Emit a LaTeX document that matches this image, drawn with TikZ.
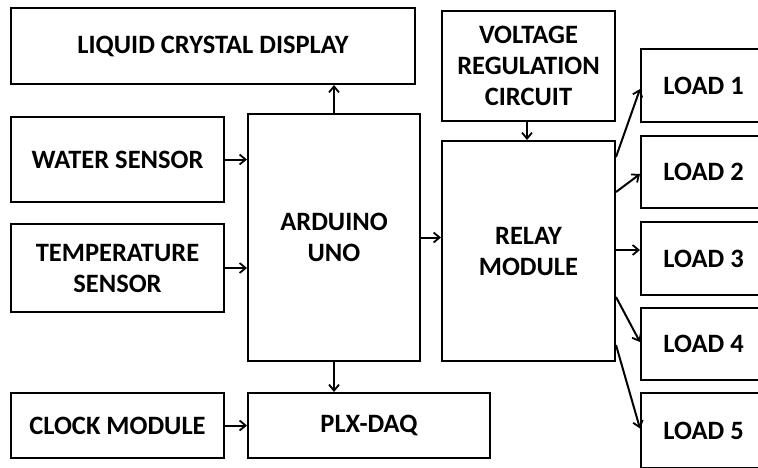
\documentclass[tikz,border=0pt]{standalone}
\usepackage{fontspec}
\setmainfont{Carlito}
\usetikzlibrary{arrows.meta}
\begin{document}
\begin{tikzpicture}[x=1pt,y=-1pt,
  blk/.style={draw=black, line width=2pt, fill=white, align=center, inner sep=0pt,
    font=\fontsize{26.5}{31}\selectfont\bfseries},
  arr/.style={line width=2pt, -{Straight Barb[length=6pt,width=10pt,line width=1.8pt]}}]
\useasboundingbox (0,0) rectangle (758,467);
\clip (0,0) rectangle (758,467);
\fill[white] (0,0) rectangle (758,467);
\node[blk, minimum width=404pt, minimum height=76pt] (lcd) at (213,46) {LIQUID CRYSTAL DISPLAY};
\node[blk, minimum width=213pt, minimum height=85pt] (water) at (117.5,159.5) {WATER SENSOR};
\node[blk, minimum width=213pt, minimum height=88pt] (temp) at (117.5,268) {TEMPERATURE\\SENSOR};
\node[blk, minimum width=172pt, minimum height=247pt] (ard) at (334,237.5) {ARDUINO\\UNO};
\node[blk, minimum width=213pt, minimum height=65pt] (clock) at (117.5,425.5) {CLOCK MODULE};
\node[blk, minimum width=242pt, minimum height=65pt] (plx) at (369,425.5) {PLX-DAQ};
\node[blk, minimum width=173pt, minimum height=110pt] (volt) at (528.5,66) {VOLTAGE\\REGULATION\\CIRCUIT};
\node[blk, minimum width=173pt, minimum height=220pt] (relay) at (528.5,251) {RELAY\\MODULE};
\node[blk, minimum width=125pt, minimum height=73pt] (l1) at (703.5,85.5) {LOAD 1};
\node[blk, minimum width=125pt, minimum height=72pt] (l2) at (703.5,172) {LOAD 2};
\node[blk, minimum width=125pt, minimum height=73pt] (l3) at (703.5,258.5) {LOAD 3};
\node[blk, minimum width=125pt, minimum height=72pt] (l4) at (703.5,344) {LOAD 4};
\node[blk, minimum width=125pt, minimum height=75pt] (l5) at (703.5,430.5) {LOAD 5};
\draw[arr] (ard.north) -- (ard.north |- lcd.south);
\draw[arr] (water.east) -- (water.east -| ard.west);
\draw[arr] (temp.east) -- (temp.east -| ard.west);
\draw[arr] (clock.east) -- (clock.east -| plx.west);
\draw[arr] (ard.south) -- (ard.south |- plx.north);
\draw[arr] (ard.east) -- (ard.east -| relay.west);
\draw[arr] ([xshift=-1.5pt]volt.south) -- ([xshift=-1.5pt]volt.south |- relay.north);
\draw[arr] ([yshift=94pt]relay.east) -- ([yshift=-3.5pt]l1.west);
\draw[arr] ([yshift=59pt]relay.east) -- ([yshift=-2pt]l2.west);
\draw[arr] ([yshift=1pt]relay.east) -- ([yshift=1pt]relay.east -| l3.west);
\draw[arr] ([yshift=-46pt]relay.east) -- ([yshift=2pt]l4.west);
\draw[arr] ([yshift=-94pt]relay.east) -- ([yshift=2pt]l5.west);
\end{tikzpicture}
\end{document}
